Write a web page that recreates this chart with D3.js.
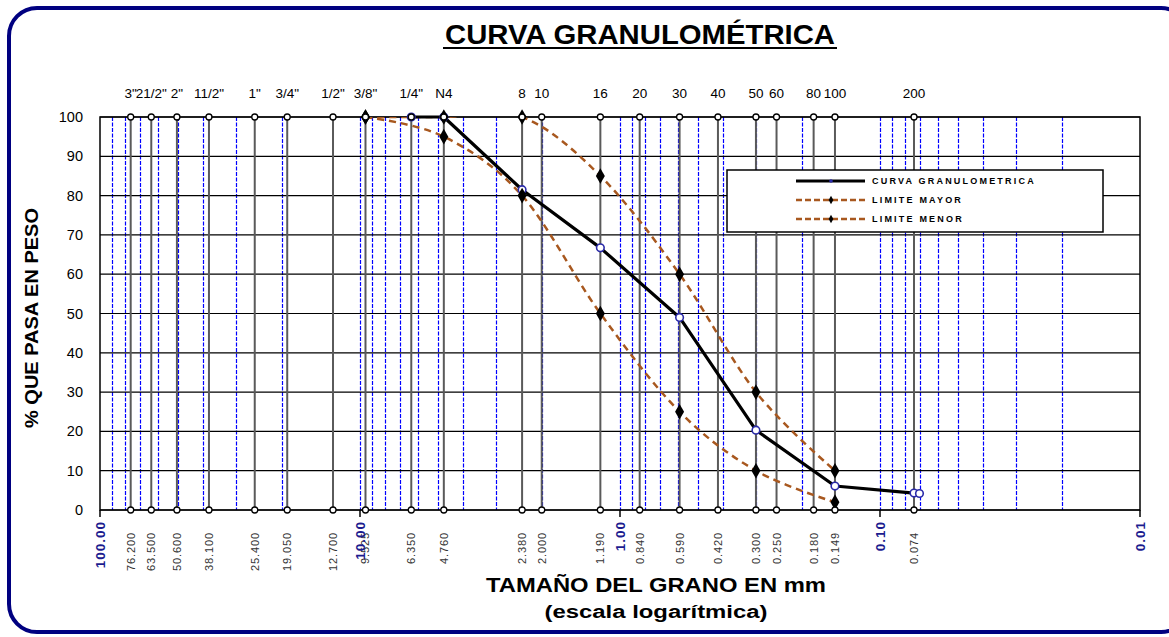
<!DOCTYPE html>
<html>
<head>
<meta charset="utf-8">
<script src="https://cdn.jsdelivr.net/npm/d3@7"></script>
<style>
  html, body { margin: 0; padding: 0; background: #fff; }
  svg { display: block; font-family: Arial, "Liberation Sans", sans-serif; }
</style>
</head>
<body>
<svg id="chart" width="1169" height="637"></svg>
<script>
// ---- data ----
const sieveNames = ['3"', '21/2"', '2"', '11/2"', '1"', '3/4"', '1/2"', '3/8"', '1/4"', 'N4', '8', '10', '16', '20', '30', '40', '50', '60', '80', '100', '200'];
const sieveSizes = [76.2, 63.5, 50.6, 38.1, 25.4, 19.05, 12.7, 9.525, 6.35, 4.76, 2.38, 2.0, 1.19, 0.84, 0.59, 0.42, 0.30, 0.25, 0.18, 0.149, 0.074];
const sieveSizeLabels = ['76.200', '63.500', '50.600', '38.100', '25.400', '19.050', '12.700', '9.525', '6.350', '4.760', '2.380', '2.000', '1.190', '0.840', '0.590', '0.420', '0.300', '0.250', '0.180', '0.149', '0.074'];

const curveSizes = [6.35, 4.76, 2.38, 1.19, 0.59, 0.30, 0.149, 0.074, 0.0705];
const curveValues = [100, 100, 81.5, 66.7, 49, 20.3, 6.1, 4.3, 4.2];

const limitSizes = [9.525, 4.76, 2.38, 1.19, 0.59, 0.30, 0.149];
const upperValues = [100, 100, 100, 85, 60, 30, 10];
const lowerValues = [100, 95, 80, 50, 25, 10, 2];

const decadeValues = [100, 10, 1, 0.1, 0.01];
const decadeLabels = ['100.00', '10.00', '1.00', '0.10', '0.01'];
const yTicks = [0, 10, 20, 30, 40, 50, 60, 70, 80, 90, 100];
const legendLabels = ['CURVA GRANULOMETRICA', 'LIMITE MAYOR', 'LIMITE MENOR'];

// ---- layout ----
const svg = d3.select('#chart');
const L = 100, R = 1140, T = 117, B = 510;
const x = d3.scaleLog().domain([100, 0.01]).range([L, R]);
const y = d3.scaleLinear().domain([0, 100]).range([B, T]);
const brown = '#a8581f';
const navy = '#000080';

svg.append('defs').append('clipPath').attr('id', 'plotclip')
  .append('rect').attr('x', L).attr('y', T).attr('width', R - L).attr('height', B - T);

// outer rounded border
svg.append('rect').attr('x', 9).attr('y', 8).attr('width', 1180).attr('height', 624)
  .attr('rx', 28).attr('ry', 28).attr('fill', 'none').attr('stroke', navy).attr('stroke-width', 4);

// title
svg.append('text').attr('x', 640).attr('y', 44).attr('text-anchor', 'middle')
  .attr('font-size', 27).attr('font-weight', 'bold').attr('fill', '#000')
  .attr('textLength', 390).attr('lengthAdjust', 'spacingAndGlyphs')
  .text('CURVA GRANULOMÉTRICA');
svg.append('line').attr('x1', 443).attr('x2', 837).attr('y1', 48).attr('y2', 48)
  .attr('stroke', '#000').attr('stroke-width', 2);

// plot background
svg.append('rect').attr('x', L).attr('y', T).attr('width', R - L).attr('height', B - T).attr('fill', '#fff');

// minor log grid (blue dashed)
const minor = [];
[100, 10, 1, 0.1].forEach(d => {
  for (let k = 9; k >= 1; k--) {
    const v = d * k / 10;
    if (v < 100 && v > 0.01) minor.push(v);
  }
});
svg.append('g').selectAll('line').data(minor).join('line')
  .attr('x1', d => Math.round(x(d)) + 0.5).attr('x2', d => Math.round(x(d)) + 0.5).attr('y1', T).attr('y2', B)
  .attr('stroke', '#0000ff').attr('stroke-width', 1.2).attr('stroke-dasharray', '4,1.5');

// horizontal grid
svg.append('g').selectAll('line').data(yTicks).join('line')
  .attr('x1', L).attr('x2', R).attr('y1', d => y(d)).attr('y2', d => y(d))
  .attr('stroke', '#000').attr('stroke-width', 1.2);

// sieve vertical lines
svg.append('g').selectAll('line').data(sieveSizes).join('line')
  .attr('x1', d => x(d)).attr('x2', d => x(d)).attr('y1', T).attr('y2', B)
  .attr('stroke', '#5a5a5a').attr('stroke-width', 2);

// plot frame
svg.append('rect').attr('x', L).attr('y', T).attr('width', R - L).attr('height', B - T)
  .attr('fill', 'none').attr('stroke', '#000').attr('stroke-width', 1.5);

// decade ticks
svg.append('g').selectAll('line').data(decadeValues).join('line')
  .attr('x1', d => x(d)).attr('x2', d => x(d)).attr('y1', B).attr('y2', B + 7)
  .attr('stroke', '#000').attr('stroke-width', 1.5);

// y tick labels
svg.append('g').selectAll('text').data(yTicks).join('text')
  .attr('x', 83).attr('y', d => y(d)).attr('dy', '0.35em').attr('text-anchor', 'end')
  .attr('font-size', 14.5).attr('fill', '#000').text(d => d);

// y title
svg.append('text').attr('transform', 'translate(38,318) rotate(-90)')
  .attr('text-anchor', 'middle').attr('font-size', 18).attr('font-weight', 'bold')
  .attr('textLength', 220).attr('lengthAdjust', 'spacingAndGlyphs')
  .text('% QUE PASA EN PESO');

// top sieve labels
svg.append('g').selectAll('text').data(sieveSizes).join('text')
  .attr('x', d => x(d)).attr('y', 98).attr('text-anchor', 'middle')
  .attr('font-size', 13.5).attr('fill', '#000').text((d, i) => sieveNames[i]);

// bottom sieve size labels
svg.append('g').selectAll('text').data(sieveSizes).join('text')
  .attr('transform', d => `translate(${x(d) + 4},532) rotate(-90)`)
  .attr('text-anchor', 'end').attr('font-size', 11).attr('letter-spacing', 0.9)
  .attr('fill', '#333').text((d, i) => sieveSizeLabels[i]);

// decade labels
svg.append('g').selectAll('text').data(decadeValues).join('text')
  .attr('transform', d => `translate(${x(d) + 5},521) rotate(-90)`)
  .attr('text-anchor', 'end').attr('font-size', 13.5).attr('font-weight', 'bold')
  .attr('letter-spacing', 1).attr('fill', '#1c1c8f').text((d, i) => decadeLabels[i]);

// x titles
svg.append('text').attr('x', 656).attr('y', 592).attr('text-anchor', 'middle')
  .attr('font-size', 20).attr('font-weight', 'bold')
  .attr('textLength', 340).attr('lengthAdjust', 'spacingAndGlyphs')
  .text('TAMAÑO DEL GRANO EN mm');
svg.append('text').attr('x', 656).attr('y', 618).attr('text-anchor', 'middle')
  .attr('font-size', 18).attr('font-weight', 'bold')
  .attr('textLength', 223).attr('lengthAdjust', 'spacingAndGlyphs')
  .text('(escala logarítmica)');

// series
const lineGen = (sizes, vals, curve) => d3.line().curve(curve)
  .x((d, i) => x(sizes[i])).y((d, i) => y(vals[i]))(vals);

const diamond = d3.symbol().type(d3.symbolDiamond).size(70);

// limit curves (smoothed, clipped to plot area)
[upperValues, lowerValues].forEach(vals => {
  svg.append('path').attr('d', lineGen(limitSizes, vals, d3.curveCardinal.tension(0)))
    .attr('clip-path', 'url(#plotclip)')
    .attr('fill', 'none').attr('stroke', brown).attr('stroke-width', 2.5).attr('stroke-dasharray', '7,5');
});

// main curve
svg.append('path').attr('d', lineGen(curveSizes, curveValues, d3.curveLinear))
  .attr('fill', 'none').attr('stroke', '#000').attr('stroke-width', 3.2).attr('stroke-linejoin', 'round');

svg.append('g').selectAll('circle').data(curveValues).join('circle')
  .attr('cx', (d, i) => x(curveSizes[i])).attr('cy', d => y(d)).attr('r', 3.8)
  .attr('fill', '#fff').attr('stroke', '#2a2aa8').attr('stroke-width', 1.6);

[upperValues, lowerValues].forEach(vals => {
  svg.append('g').selectAll('path').data(vals).join('path')
    .attr('d', diamond)
    .attr('transform', (d, i) => `translate(${x(limitSizes[i])},${y(d)})`)
    .attr('fill', '#000');
});

// sieve markers at top and bottom
[100, 0].forEach(v => {
  svg.append('g').selectAll('circle').data(sieveSizes).join('circle')
    .attr('cx', d => x(d)).attr('cy', y(v)).attr('r', 3)
    .attr('fill', '#fff').attr('stroke', '#000').attr('stroke-width', 1.3);
});

// legend
const lg = svg.append('g');
lg.append('rect').attr('x', 727).attr('y', 170).attr('width', 376).attr('height', 62)
  .attr('fill', '#fff').attr('stroke', '#000').attr('stroke-width', 1.5);
const rowsY = [181, 200, 219];
legendLabels.forEach((lab, i) => {
  const yy = rowsY[i];
  if (i === 0) {
    lg.append('line').attr('x1', 796).attr('x2', 865).attr('y1', yy).attr('y2', yy)
      .attr('stroke', '#000').attr('stroke-width', 3);
    lg.append('circle').attr('cx', 831).attr('cy', yy).attr('r', 1.8).attr('fill', '#2a2aa8');
  } else {
    lg.append('line').attr('x1', 796).attr('x2', 865).attr('y1', yy).attr('y2', yy)
      .attr('stroke', brown).attr('stroke-width', 2.5).attr('stroke-dasharray', '6,3');
    lg.append('path').attr('d', d3.symbol().type(d3.symbolDiamond).size(20))
      .attr('transform', `translate(831,${yy})`).attr('fill', '#000');
  }
  lg.append('text').attr('x', 872).attr('y', yy).attr('dy', '0.35em')
    .attr('font-size', 9).attr('font-weight', 'bold').attr('letter-spacing', 2.2)
    .text(lab);
});
</script>
</body>
</html>
